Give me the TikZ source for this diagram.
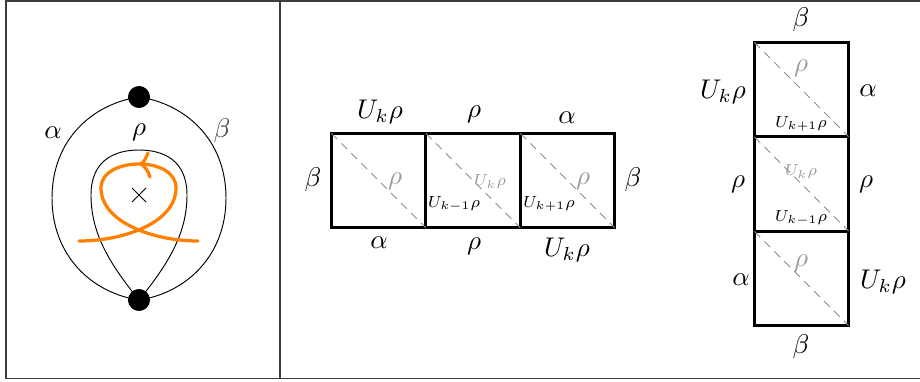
\documentclass[tikz,border=0pt]{standalone}
\definecolor{myorange}{RGB}{255,128,0}
\definecolor{framegray}{RGB}{60,60,60}
\tikzset{
  frameline/.style={draw=framegray, line width=0.6pt},
  thinline/.style={draw=black, line width=0.35pt},
  orangeline/.style={draw=myorange, line width=1.2pt},
  bigdot/.style={circle, fill=black, inner sep=0pt, minimum size=8pt},
  sq/.style={draw=black, line width=0.8pt, minimum size=34.8pt, inner sep=0pt, outer sep=0pt},
  diag/.style={draw=black!45, line width=0.35pt, dash pattern=on 3pt off 2.2pt},
  lbl/.style={inner sep=0pt},
  greylbl/.style={inner sep=0pt, text=black!40},
  smalllbl/.style={inner sep=0pt, font=\scriptsize, scale=0.85, transform shape},
  smallgrey/.style={inner sep=0pt, font=\scriptsize, scale=0.85, transform shape, text=black!40}
}
\begin{document}
\begin{tikzpicture}[x=0.37pt, y=-0.37pt]
\useasboundingbox (0,0) rectangle (920,381);
% frame
\draw[frameline] (940,1) -- (6,1) -- (6,378.5) -- (940,378.5);
\draw[frameline] (280,1) -- (280,378.5);

% ---------- left panel ----------
\node[bigdot] (top) at (139,97) {};
\node[bigdot] (bot) at (139,300) {};
\draw[thinline] (top.center) .. controls (92,104) and (52,140) .. (52,198)
  .. controls (52,256) and (92,293) .. (bot.center);
\draw[thinline] (top.center) .. controls (186,104) and (226,140) .. (226,198)
  .. controls (226,256) and (186,293) .. (bot.center);
\draw[thinline] (bot.center) .. controls (108,262) and (91,232) .. (91,195)
  .. controls (91,160) and (115,150) .. (139,150)
  .. controls (163,150) and (187,160) .. (187,195)
  .. controls (187,232) and (170,262) .. (bot.center);
\node[bigdot] at (139,97) {};
\node[bigdot] at (139,300) {};
% cross
\coordinate (x0) at (139,195);
\draw[thinline] ([shift={(-7,-7)}]x0) -- ([shift={(7,7)}]x0);
\draw[thinline] ([shift={(-7,7)}]x0) -- ([shift={(7,-7)}]x0);
% orange loop
\draw[orangeline, line cap=round] (79,241) .. controls (125,241) and (176,222) .. (176,188)
  .. controls (176,172) and (158,164) .. (139,164)
  .. controls (120,164) and (101,172) .. (101,188)
  .. controls (101,222) and (153,241) .. (198,241);
\draw[orangeline, line cap=round, line join=round] (148,153) .. controls (146,158) and (144,162) .. (141,164)
  .. controls (144,166) and (148,170) .. (150,177);
% labels
\node[lbl] (la) at (53,133) {$\alpha$};
\node[lbl] (lr) at (139,132) {$\rho$};
\node[lbl, text=black!75] (lb) at (222,131) {$\beta$};

% ---------- middle panel ----------
\node[sq] (m1) at (378.5,180.5) {};
\node[sq] (m2) at (473,180.5) {};
\node[sq] (m3) at (567.5,180.5) {};
\foreach \s in {m1,m2,m3} \draw[diag] (\s.north west) -- (\s.south east);
\node[lbl] at (380,112) {$U_k\rho$};
\node[lbl] at (474,114) {$\rho$};
\node[lbl] at (567,118) {$\alpha$};
\node[lbl] at (379,243) {$\alpha$};
\node[lbl] at (474,246) {$\rho$};
\node[lbl] at (567,250) {$U_k\rho$};
\node[lbl] at (313,180) {$\beta$};
\node[lbl] at (633,180) {$\beta$};
\node[greylbl] at (395,181) {$\rho$};
\node[greylbl] at (583,181) {$\rho$};
\node[smallgrey] at (490,182) {$U_k\rho$};
\node[smalllbl] at (454,204) {$U_{k-1}\rho$};
\node[smalllbl] at (549,204) {$U_{k+1}\rho$};

% ---------- right panel ----------
\node[sq] (r1) at (801.5,89.5) {};
\node[sq] (r2) at (801.5,184) {};
\node[sq] (r3) at (801.5,278.5) {};
\foreach \s in {r1,r2,r3} \draw[diag] (\s.north west) -- (\s.south east);
\node[lbl] at (801,20) {$\beta$};
\node[lbl] at (801,347) {$\beta$};
\node[lbl] at (723,92) {$U_k\rho$};
\node[lbl] at (738,184) {$\rho$};
\node[lbl] at (741,280) {$\alpha$};
\node[lbl] at (868,91) {$\alpha$};
\node[lbl] at (866,184) {$\rho$};
\node[lbl] at (883,282) {$U_k\rho$};
\node[greylbl] at (801,68) {$\rho$};
\node[smallgrey] at (801,172) {$U_k\rho$};
\node[greylbl] at (801,263) {$\rho$};
\node[smalllbl] at (801,124) {$U_{k+1}\rho$};
\node[smalllbl] at (801,218) {$U_{k-1}\rho$};
\end{tikzpicture}
\end{document}
